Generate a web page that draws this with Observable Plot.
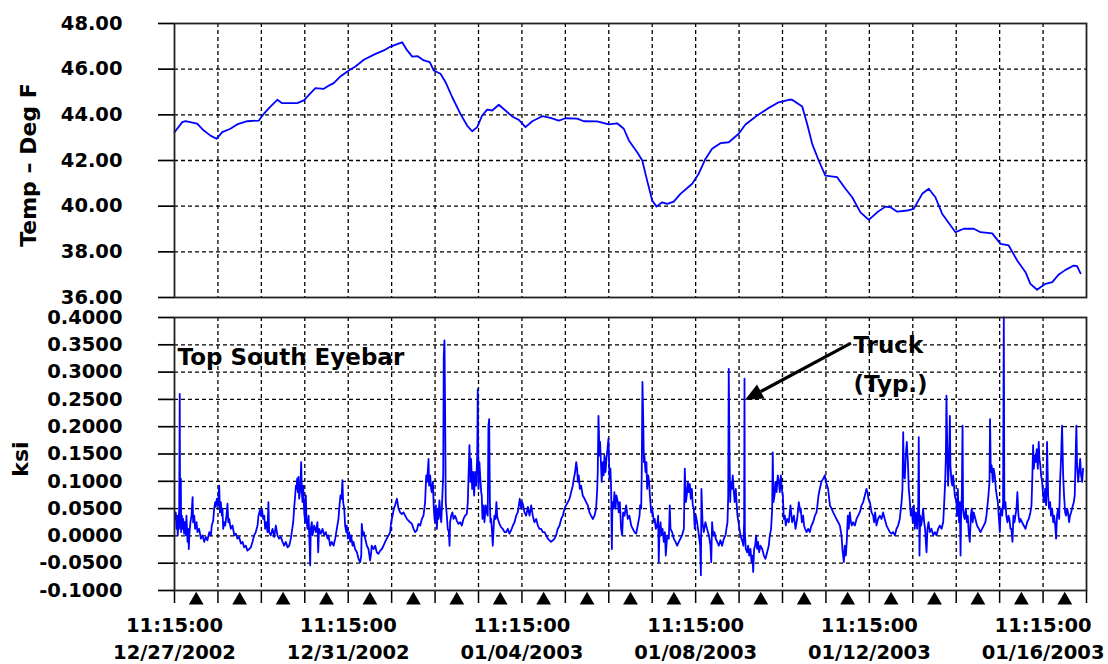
<!DOCTYPE html>
<html><head><meta charset="utf-8">
<script src="https://cdn.jsdelivr.net/npm/d3@7"></script>
<script src="https://cdn.jsdelivr.net/npm/@observablehq/plot@0.6"></script>
<style>
body{margin:0;background:#fff;}
#chart{position:relative;width:1108px;height:664px;overflow:hidden;background:#fff;}
#chart svg{position:absolute;left:0;}
</style></head><body><div id="chart"></div>
<script>
// Time origin: 12/27/2002 11:15:00; x values below are hours since then
const START = Date.UTC(2002, 11, 27, 11, 15);
const SPAN_HOURS = 504; // 21 days shown

const gridHours = [24,48,72,96,120,144,168,192,216,240,264,288,312,336,360,384,408,432,456,480];
const dayTickHours = [0,24,48,72,96,120,144,168,192,216,240,264,288,312,336,360,384,408,432,456,480,504];
const labelHours = [0,96,192,288,384,480];
const markerHours = [12,36,60,84,108,132,156,180,204,228,252,276,300,324,348,372,396,420,444,468,492];

const tempTicks = [36,38,40,42,44,46,48];
const ksiTicks = [-0.1,-0.05,0,0.05,0.1,0.15,0.2,0.25,0.3,0.35,0.4];
const ksiTickLabels = ["-0.1000","-0.0500","0.0000","0.0500","0.1000","0.1500","0.2000","0.2500","0.3000","0.3500","0.4000"];

// Temperature (deg F) [hour, value]
const tempSeries = [[0,43.24],[4.3,43.68],[6.1,43.72],[12.5,43.61],[16.2,43.31],[19.9,43.09],[23.2,42.95],[26.4,43.24],[30.9,43.39],[34.6,43.58],[40.2,43.72],[46.6,43.75],[49.3,44.04],[53.0,44.36],[56.8,44.66],[59.5,44.51],[67.8,44.51],[71.5,44.63],[75.2,44.95],[77.9,45.17],[82.5,45.14],[85.3,45.28],[88.0,45.39],[91.7,45.68],[96.3,45.94],[100.0,46.12],[104.6,46.41],[111.1,46.67],[115.7,46.82],[119.4,46.99],[124.9,47.15],[125.8,47.18],[128.6,46.82],[131.4,46.55],[134.4,46.57],[137.8,46.38],[141.1,46.31],[143.3,45.94],[147.0,45.80],[149.8,45.43],[153.5,44.77],[158.0,44.04],[161.7,43.53],[164.5,43.28],[167.3,43.46],[170.0,43.97],[172.8,44.23],[175.6,44.19],[179.2,44.44],[182.9,44.19],[186.6,43.93],[190.3,43.78],[194.0,43.46],[197.7,43.72],[203.2,43.94],[207.8,43.87],[212.4,43.75],[216.1,43.85],[222.5,43.83],[226.2,43.72],[233.6,43.71],[240.0,43.58],[244.6,43.63],[248.3,43.39],[251.1,42.88],[255.7,42.36],[258.5,42.00],[261.2,41.12],[264.0,40.25],[266.4,39.98],[269.5,40.17],[272.3,40.10],[275.9,40.20],[279.6,40.54],[286.1,40.98],[289.7,41.42],[293.4,42.07],[297.1,42.51],[301.7,42.76],[306.3,42.80],[311.8,43.17],[315.5,43.58],[322.0,43.97],[327.5,44.26],[333.9,44.55],[339.5,44.66],[341.3,44.66],[346.9,44.36],[349.6,43.61],[352.4,42.73],[356.0,42.00],[359.7,41.34],[366.2,41.27],[370.8,40.76],[374.5,40.39],[379.1,39.73],[383.7,39.40],[388.3,39.73],[392.9,39.98],[395.7,39.95],[399.4,39.76],[404.9,39.81],[408.5,39.88],[413.2,40.54],[416.8,40.76],[420.5,40.39],[424.2,39.67],[431.6,38.86],[436.2,39.01],[441.7,39.01],[445.4,38.86],[451.9,38.81],[456.5,38.35],[461.0,38.28],[465.7,37.62],[470.3,37.11],[473.0,36.60],[476.7,36.34],[481.3,36.60],[485.1,36.67],[488.7,37.01],[492.4,37.21],[497.0,37.40],[498.8,37.37],[500.7,37.06]];

// Stress (ksi) [hour, value]
const strainSeries = [
[0.4,0.031],[0.7,0.043],[1.1,0.013],[1.5,0.037],[1.8,0.001],[2.2,0.025],[2.6,0.050],[2.9,0.260],[3.1,0.013],[3.5,0.105],[3.7,0.007],[4.1,0.037],[4.4,0.013],[4.8,0.031],[5.3,0.004],[5.7,0.025],[6.3,0.001],[6.6,0.037],[7.2,-0.011],[7.6,0.013],[7.9,-0.024],[8.3,0.007],[8.8,0.025],[9.4,0.037],[10.0,0.071],[10.3,0.025],[10.9,0.037],[11.4,0.013],[12.2,0.025],[12.7,0.007],[13.6,0.013],[14.6,-0.005],[15.5,0.001],[16.4,-0.011],[17.3,-0.002],[18.2,-0.008],[19.2,0.007],[20.1,0.001],[20.6,0.019],[21.4,0.028],[21.9,0.050],[22.5,0.062],[22.8,0.053],[23.4,0.068],[24.0,0.056],[24.7,0.092],[25.1,0.043],[25.6,0.062],[26.2,0.037],[26.5,0.050],[26.9,0.013],[27.5,0.025],[28.0,0.019],[28.7,0.037],[29.3,0.059],[29.7,0.025],[30.2,0.031],[31.1,0.013],[32.1,0.019],[33.0,0.001],[33.9,0.004],[34.8,-0.005],[35.7,-0.002],[36.7,-0.014],[37.6,-0.011],[38.5,-0.021],[39.4,-0.018],[40.3,-0.027],[41.3,-0.024],[42.2,-0.021],[43.1,-0.011],[44.0,0.001],[44.9,0.007],[45.9,0.019],[46.4,0.037],[47.2,0.047],[47.7,0.037],[48.3,0.050],[49.0,0.031],[49.6,0.037],[50.1,0.013],[50.8,0.025],[51.4,0.007],[51.9,0.062],[52.3,0.007],[53.2,0.001],[54.2,0.013],[55.1,-0.002],[56.0,0.019],[56.9,0.001],[57.8,-0.005],[58.8,-0.002],[59.7,-0.011],[60.6,-0.018],[61.5,-0.011],[62.5,-0.021],[63.4,-0.018],[64.3,-0.005],[64.8,0.007],[65.6,0.025],[66.1,0.050],[66.7,0.074],[67.1,0.092],[67.4,0.086],[67.8,0.105],[68.2,0.080],[68.5,0.108],[68.9,0.068],[69.5,0.086],[70.0,0.135],[70.4,0.080],[70.7,0.062],[71.1,0.092],[71.7,0.043],[72.2,0.025],[72.6,0.074],[72.9,0.031],[73.5,0.013],[74.1,0.037],[74.4,0.007],[75.0,-0.054],[75.3,0.013],[75.9,0.025],[76.3,0.001],[77.2,0.019],[78.1,0.007],[79.0,0.025],[79.4,-0.030],[79.9,0.013],[80.9,0.004],[81.8,0.013],[82.7,0.001],[83.6,0.007],[84.6,-0.005],
[85.1,0.001],[86.0,-0.018],[86.9,-0.011],[87.9,-0.018],[88.8,-0.005],[89.7,0.013],[90.6,0.031],[91.2,0.056],[91.7,0.074],[92.3,0.068],[92.8,0.102],[93.2,0.062],[93.8,0.050],[94.3,0.019],[94.9,0.007],[95.2,0.019],[95.8,-0.005],[96.5,0.007],[97.1,-0.011],[97.6,0.001],[98.4,-0.018],[98.9,-0.011],[99.8,-0.024],[100.8,-0.030],[101.7,-0.042],[102.6,-0.048],[103.2,-0.036],[103.5,0.022],[104.1,0.001],[104.6,0.007],[105.4,-0.005],[106.3,-0.018],[107.2,-0.024],[108.1,-0.045],[108.7,-0.030],[109.0,-0.018],[110.0,-0.024],[110.9,-0.018],[111.8,-0.030],[112.7,-0.033],[113.7,-0.027],[114.6,-0.024],[115.5,-0.018],[116.4,-0.011],[117.3,-0.005],[118.3,0.001],[119.2,0.007],[119.7,0.025],[120.5,0.037],[121.2,0.050],[121.9,0.056],[122.9,0.068],[123.8,0.050],[124.7,0.043],[125.6,0.040],[126.5,0.043],[127.5,0.037],[128.4,0.031],[129.3,0.028],[130.2,0.025],[131.2,0.022],[132.1,0.013],[133.0,0.007],[133.9,0.010],[134.8,0.022],[135.8,0.019],[136.7,0.031],[137.6,0.037],[138.5,0.062],[139.1,0.111],[139.6,0.099],[140.4,0.141],[140.7,0.092],[141.3,0.111],[141.8,0.086],[142.2,0.080],[142.8,0.099],[143.3,0.050],[143.7,0.031],[144.0,0.025],[144.4,0.056],[145.0,0.013],[145.5,0.050],[145.9,0.031],[146.4,0.065],[147.0,0.037],[147.4,0.025],[147.9,0.062],[148.5,0.111],[148.8,0.330],[149.2,0.358],[149.6,0.208],[149.9,0.062],[150.5,0.037],[151.0,0.013],[151.6,0.007],[152.0,-0.018],[152.3,0.025],[152.9,0.037],[153.6,0.043],[154.2,0.031],[155.1,0.037],[156.0,0.028],[156.9,0.022],[157.9,0.025],[158.8,0.019],[159.7,0.031],[160.6,0.037],[161.5,0.040],[162.1,0.062],[162.5,0.111],[163.0,0.166],[163.6,0.099],[163.9,0.141],[164.5,0.086],[165.0,0.117],[165.6,0.074],[166.1,0.117],[166.7,0.092],[167.3,0.147],[167.6,0.269],[168.0,0.086],[168.5,0.135],[168.9,0.111],[169.5,0.080],[169.8,0.074],[170.2,0.031],[170.8,0.056],[171.3,0.025],[172.0,0.056],[172.6,0.043],[173.1,0.037],
[173.5,0.202],[173.9,0.214],[174.3,0.062],[174.6,0.025],[175.0,0.031],[175.5,0.007],[175.9,-0.018],[176.5,0.025],[176.8,0.037],[177.4,0.031],[177.9,0.062],[178.3,0.037],[178.7,0.031],[179.6,0.022],[180.5,0.016],[181.4,0.013],[182.4,0.007],[183.3,0.007],[184.2,0.013],[185.1,0.004],[186.0,0.010],[187.0,0.019],[187.9,0.025],[188.8,0.037],[189.7,0.043],[190.3,0.056],[190.8,0.068],[191.6,0.050],[192.1,0.062],[192.7,0.056],[193.4,0.043],[194.3,0.037],[195.3,0.053],[196.2,0.037],[197.1,0.056],[198.0,0.037],[198.9,0.025],[199.9,0.031],[200.8,0.019],[201.7,0.013],[202.6,0.013],[203.5,0.007],[204.5,0.007],[205.4,0.001],[206.3,-0.005],[207.2,-0.008],[208.1,-0.011],[209.1,-0.008],[210.0,-0.005],[210.9,0.001],[211.8,0.013],[212.8,0.019],[213.7,0.031],[214.6,0.037],[215.5,0.050],[216.4,0.056],[217.4,0.062],[218.3,0.068],[219.2,0.080],[220.1,0.092],[220.7,0.105],[221.4,0.117],[222.0,0.135],[222.5,0.123],[222.9,0.099],[223.4,0.111],[224.0,0.086],[224.7,0.092],[225.6,0.074],[226.6,0.068],[227.5,0.062],[228.4,0.056],[229.3,0.043],[230.2,0.037],[231.2,0.031],[232.1,0.037],[233.0,0.050],[233.6,0.086],[233.9,0.117],[234.3,0.220],[234.9,0.147],[235.2,0.172],[235.8,0.123],[236.1,0.099],[236.7,0.135],[237.2,0.111],[237.6,0.147],[238.2,0.117],[238.7,0.141],[239.3,0.159],[239.8,0.178],[240.4,0.105],[240.9,0.123],[241.3,0.086],[241.7,-0.024],[242.0,0.062],[242.6,0.050],[243.1,0.080],[243.7,0.050],[244.2,0.074],[245.0,0.062],[245.5,0.043],[246.1,0.062],[246.8,0.013],[247.4,0.001],[247.9,0.043],[248.7,0.037],[249.6,0.056],[250.5,0.031],[251.4,0.037],[252.4,0.019],[253.3,0.013],[254.2,0.007],[255.1,0.004],[256.0,0.019],[257.0,0.037],[257.3,0.056],[257.9,0.050],[258.2,0.111],[258.6,0.282],[259.0,0.220],[259.4,0.135],[259.7,0.147],
[260.3,0.117],[260.8,0.135],[261.2,0.086],[261.8,0.111],[262.3,0.099],[262.7,0.074],[263.0,0.062],[263.4,0.043],[264.0,0.050],[264.5,0.037],[264.9,0.025],[265.4,0.031],[266.0,0.013],[266.7,0.019],[267.3,0.037],[267.6,-0.048],[268.0,0.007],[268.6,0.025],[269.1,0.001],[269.7,0.013],[270.4,-0.011],[271.0,0.007],[271.5,-0.036],[272.3,0.001],[273.2,-0.005],[273.7,0.056],[274.1,0.013],[275.0,0.007],[275.9,-0.005],[276.9,-0.011],[277.8,-0.018],[278.7,-0.011],[279.6,-0.005],[280.5,0.001],[281.5,0.013],[282.0,0.123],[282.6,0.062],[283.1,0.074],[283.7,0.099],[284.2,0.080],[284.8,0.095],[285.3,0.068],[285.9,0.086],[286.4,0.056],[287.0,0.050],[287.5,0.013],[288.1,0.037],[288.8,0.025],[289.8,0.001],[290.5,-0.018],[290.9,-0.072],[291.2,0.086],[291.8,0.025],[292.5,0.007],[293.4,0.025],[294.3,0.013],[295.3,0.001],[296.2,-0.018],[296.6,-0.048],[297.1,0.025],[297.7,0.001],[298.4,0.007],[299.1,-0.005],[299.9,-0.011],[300.8,-0.018],[301.7,-0.008],[302.6,-0.018],[303.6,-0.005],[304.5,0.001],[305.0,0.013],[305.6,0.025],[306.0,0.074],[306.3,0.306],[306.7,0.159],[307.1,0.062],[307.4,0.099],[308.0,0.086],[308.5,0.111],[309.1,0.080],[309.6,0.062],[310.2,0.086],[310.7,0.056],[311.1,0.037],[311.7,0.025],[312.2,0.013],[312.8,0.001],[313.3,-0.005],[313.9,-0.011],[314.4,-0.018],[314.8,0.025],[315.0,0.288],[315.2,0.007],[315.7,-0.024],[316.5,-0.030],[317.0,-0.018],[317.6,-0.036],[318.3,-0.024],[318.9,-0.048],[319.4,-0.036],[319.8,-0.066],[320.3,-0.024],[320.9,-0.018],[321.4,0.001],[322.0,-0.024],[322.5,-0.011],[323.1,-0.030],[323.8,-0.018],[324.8,-0.024],[325.7,-0.036],[326.6,-0.042],[327.5,-0.030],[328.4,-0.018],[329.0,0.001],[329.7,0.013],[330.3,0.050],[330.6,0.153],[331.0,0.062],[331.6,0.074],[332.1,0.099],[332.7,0.080],[333.4,0.111],[334.0,0.099],[334.5,0.080],[335.1,0.111],[335.6,0.086],[336.2,0.074],[336.7,0.031],[337.3,0.037],[337.8,0.019],[338.6,0.031],[339.5,0.025],[340.4,0.056],[341.3,0.025],[342.3,0.037],[343.2,0.013],[344.1,0.031],[345.0,0.062],[345.9,0.043],
[346.1,0.050],[346.7,0.025],[347.4,0.037],[347.9,0.019],[348.5,0.013],[349.3,0.007],[350.2,0.013],[351.1,0.007],[352.0,0.019],[352.9,0.025],[353.9,0.037],[354.8,0.043],[355.3,0.056],[355.9,0.074],[356.6,0.086],[357.5,0.099],[358.5,0.105],[359.4,0.111],[359.9,0.099],[360.7,0.092],[361.2,0.086],[361.8,0.068],[362.2,0.056],[363.1,0.050],[364.0,0.043],[364.9,0.037],[365.8,0.031],[366.8,0.025],[367.7,0.019],[368.6,0.001],[369.1,-0.024],[369.5,-0.036],[369.9,-0.048],[370.4,-0.018],[371.0,-0.036],[371.5,-0.011],[372.1,0.037],[372.6,0.013],[373.2,0.043],[373.8,0.025],[374.3,0.019],[375.0,0.025],[376.0,0.019],[376.9,0.031],[377.8,0.037],[378.7,0.043],[379.7,0.056],[380.6,0.062],[381.5,0.074],[382.4,0.086],[383.0,0.080],[383.5,0.068],[384.3,0.062],[385.2,0.043],[386.1,0.037],[386.6,0.025],[387.2,0.043],[387.9,0.019],[388.8,0.031],[389.8,0.037],[390.7,0.031],[391.6,0.043],[392.5,0.031],[393.5,0.019],[394.4,0.013],[395.3,0.007],[396.2,0.004],[397.1,0.007],[398.1,0.001],[399.0,0.013],[399.9,0.019],[400.8,0.031],[401.8,0.062],[402.3,0.086],[402.7,0.190],[403.0,0.111],[403.6,0.105],[404.1,0.147],[404.7,0.172],[405.3,0.135],[405.8,0.086],[406.4,0.062],[406.9,0.037],[407.5,0.050],[408.0,0.025],[408.6,0.056],[409.1,0.013],[409.7,0.043],[410.4,0.013],[411.0,0.056],[411.3,0.181],[411.7,-0.036],[412.1,0.037],[412.6,0.019],[413.2,0.031],[413.7,0.050],[414.3,0.025],[414.8,0.013],[415.2,-0.011],[415.6,-0.030],[416.1,0.013],[416.7,0.025],[417.4,0.007],[418.3,0.013],[419.3,0.001],[420.2,0.007],[421.1,0.001],[422.0,0.013],[422.9,0.019],[423.9,0.013],[424.8,0.025],[425.3,0.056],[425.9,0.099],[426.3,0.147],[426.6,0.257],[427.0,0.172],[427.5,0.092],[428.1,0.147],[428.5,0.220],[428.8,0.129],[429.4,0.099],[429.9,0.092],[430.3,0.111],[431.2,0.074],[432.1,0.062],
[432.5,0.037],[432.9,0.086],[433.2,0.050],[433.6,0.025],[434.0,0.062],[434.4,-0.036],[434.7,0.037],[435.1,0.074],[435.5,0.202],[435.8,0.050],[436.2,0.037],[436.7,0.031],[437.3,0.050],[437.9,0.025],[438.4,0.037],[438.9,0.007],[439.5,-0.011],[440.1,0.037],[440.6,0.050],[441.1,0.025],[441.7,0.043],[442.6,0.031],[443.5,0.019],[444.5,0.013],[445.4,0.007],[446.3,0.013],[447.2,0.019],[448.1,0.025],[448.7,0.037],[449.3,0.056],[449.8,0.074],[450.4,0.099],[450.7,0.214],[451.1,0.117],[451.6,0.129],[452.2,0.099],[452.7,0.123],[453.3,0.111],[453.9,0.086],[454.4,0.074],[455.0,0.062],[455.5,0.037],[456.1,0.007],[456.4,0.037],[456.8,0.050],[457.4,0.037],[457.9,0.062],[458.3,0.400],[458.6,0.050],[459.2,0.062],[459.7,0.037],[460.3,0.025],[460.9,0.037],[461.4,0.031],[462.0,0.013],[462.5,0.013],[463.1,-0.011],[463.6,0.037],[464.2,0.025],[464.7,0.037],[465.3,0.050],[465.8,0.080],[466.4,0.037],[467.0,0.025],[467.5,0.031],[468.4,0.025],[469.3,0.019],[470.3,0.013],[471.2,0.025],[472.1,0.031],[473.0,0.043],[473.6,0.056],[474.1,0.111],[474.5,0.166],[474.9,0.123],[475.4,0.147],[476.0,0.135],[476.5,0.159],[477.1,0.123],[477.6,0.172],[478.0,0.141],[478.5,0.129],[478.9,0.111],[479.5,0.099],[480.0,0.074],[480.6,0.062],[481.1,0.086],[481.7,0.056],[482.2,0.172],[482.8,0.074],[483.3,0.050],[483.9,0.062],[484.4,0.037],[485.0,0.050],[485.6,0.025],[486.1,0.037],[486.7,0.019],[487.2,-0.005],[487.7,0.037],[488.3,0.050],[488.9,0.031],[489.4,0.099],[490.0,0.147],[490.5,0.202],[491.1,0.111],[491.6,0.074],[492.2,0.043],[492.7,0.037],[493.3,0.050],[493.8,0.043],[494.4,0.025],[494.9,0.037],[495.5,0.043],[496.0,0.050],[497.0,0.062],[497.5,0.074],[498.1,0.159],[498.4,0.202],[498.8,0.129],[499.4,0.099],[499.9,0.117],[500.5,0.141],[501.0,0.111],[501.6,0.099],[502.1,0.123]
];

// Annotations (data units)
const noteLabels = ["Top South Eyebar", "Truck", "(Typ.)"];
const noteHours = [1.7, 375.2, 375.2];
const noteKsi = [0.327, 0.349, 0.277];
const arrowTail = [374.1, 0.352];
const arrowTip = [315.5, 0.248];

const toDate = h => new Date(START + h * 3600e3);
const FONT = '"DejaVu Sans", Verdana, sans-serif';
const BLUE = "#0000ff";
const xDomain = [toDate(0), toDate(SPAN_HOURS)];
const dash = {stroke: "#000", strokeDasharray: "4,3", strokeWidth: 1.3};
const baseStyle = {fontFamily: FONT, fontWeight: "bold", fontSize: "19.5px", color: "#000", background: "transparent", overflow: "visible"};

const topPlot = Plot.plot({
  width: 1108, height: 300,
  marginLeft: 174, marginRight: 22, marginTop: 23, marginBottom: 3,
  style: baseStyle,
  x: {type: "utc", domain: xDomain, axis: null},
  y: {domain: [36, 48]},
  marks: [
    Plot.ruleX(gridHours, {x: toDate, ...dash}),
    Plot.ruleY(tempTicks.slice(1, -1), {y: d => d, ...dash}),
    Plot.axisY(tempTicks, {tickSize: 16, tickPadding: 36, tickFormat: d => d.toFixed(2), label: null, strokeWidth: 1.7}),
    Plot.line(tempSeries, {x: d => toDate(d[0]), y: d => d[1], stroke: BLUE, strokeWidth: 1.8}),
    Plot.frame({stroke: "#222", strokeWidth: 1.8})
  ]
});

const notes = noteLabels.map((t, i) => ({t, h: noteHours[i], v: noteKsi[i]}));

function arrowMark(index, scales) {
  const sx = scales.x, sy = scales.y;
  const x1 = sx(toDate(arrowTail[0])), y1 = sy(arrowTail[1]);
  const x2 = sx(toDate(arrowTip[0])), y2 = sy(arrowTip[1]);
  const a = Math.atan2(y2 - y1, x2 - x1), L = 18, W = 8;
  const bx = x2 - L * Math.cos(a), by = y2 - L * Math.sin(a);
  const g = d3.create("svg:g");
  g.append("line").attr("x1", x1).attr("y1", y1).attr("x2", bx).attr("y2", by)
    .attr("stroke", "#000").attr("stroke-width", 3.2);
  g.append("path").attr("fill", "#000")
    .attr("d", `M${x2},${y2}L${bx + W * Math.sin(a)},${by - W * Math.cos(a)}L${bx - W * Math.sin(a)},${by + W * Math.cos(a)}Z`);
  return g.node();
}

const botPlot = Plot.plot({
  width: 1108, height: 364,
  marginLeft: 174, marginRight: 22, marginTop: 17, marginBottom: 74,
  style: baseStyle,
  x: {type: "utc", domain: xDomain},
  y: {domain: [-0.1, 0.4]},
  marks: [
    Plot.ruleX(gridHours, {x: toDate, ...dash}),
    Plot.ruleY(ksiTicks.slice(1, -1), {y: d => d, ...dash}),
    Plot.axisY(ksiTicks, {tickSize: 16, tickPadding: 36, tickFormat: d => ksiTickLabels[ksiTicks.indexOf(d)], label: null, strokeWidth: 1.7}),
    Plot.axisX(dayTickHours.map(toDate), {tickSize: 13, tickFormat: () => "", label: null, strokeWidth: 1.5}),
    Plot.axisX(labelHours.map(toDate), {tickSize: 0, tickPadding: 28, tickFormat: d3.utcFormat("%H:%M:%S"), label: null}),
    Plot.axisX(labelHours.map(toDate), {tickSize: 0, tickPadding: 55, tickFormat: d3.utcFormat("%m/%d/%Y"), label: null}),
    Plot.dot(markerHours, {x: toDate, frameAnchor: "bottom", symbol: "triangle", r: 5.5, fill: "#000", stroke: "none", dy: 9.7}),
    Plot.line(strainSeries, {x: d => toDate(d[0]), y: d => d[1], stroke: BLUE, strokeWidth: 1.8}),
    Plot.text(notes, {x: d => toDate(d.h), y: "v", text: "t", textAnchor: "start", fontSize: 23, fontWeight: "bold", fill: "#000"}),
    arrowMark,
    Plot.frame({stroke: "#222", strokeWidth: 1.8})
  ]
});

const chart = document.getElementById("chart");
topPlot.style.top = "0px";
botPlot.style.top = "300px";
chart.appendChild(topPlot);
chart.appendChild(botPlot);

// Y axis titles
d3.select(topPlot).append("text")
  .attr("transform", "translate(28,165) rotate(-90)")
  .attr("text-anchor", "middle").attr("dominant-baseline", "central")
  .attr("font-family", FONT).attr("font-weight", "bold").attr("font-size", 22).attr("fill", "#000")
  .text("Temp – Deg F");
d3.select(botPlot).append("text")
  .attr("transform", "translate(20,159) rotate(-90)")
  .attr("text-anchor", "middle").attr("dominant-baseline", "central")
  .attr("font-family", FONT).attr("font-weight", "bold").attr("font-size", 22).attr("fill", "#000")
  .text("ksi");
</script></body></html>
